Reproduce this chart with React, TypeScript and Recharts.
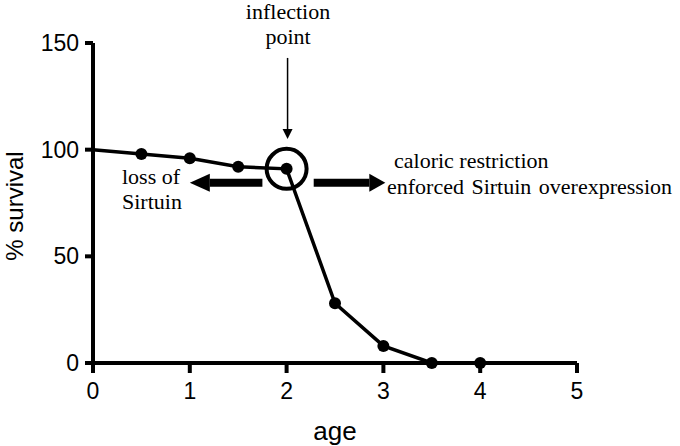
import React from "react";
import { LineChart, Line, XAxis, YAxis, ReferenceDot, ReferenceLine } from "recharts";

const ages = [0, 0.5, 1, 1.5, 2, 2.5, 3, 3.5, 4];
const survival = [100, 98, 96, 92, 91, 28, 8, 0, 0];
const xTicks = [0, 1, 2, 3, 4, 5];
const yTicks = [0, 50, 100, 150];

const data = ages.map((a, i) => ({ age: a, survival: survival[i] }));

const serif = "'Liberation Serif', 'Times New Roman', serif";
const sans = "'Liberation Sans', Arial, sans-serif";

// thick arrow drawn along a reference segment, head at (x2, y2)
const Arrow = (w: number, head: number, headW: number) => (p: any) => {
  const { x1, y1, x2, y2 } = p;
  if (x1 == null || x2 == null) return null;
  const dx = x2 - x1;
  const dy = y2 - y1;
  const len = Math.sqrt(dx * dx + dy * dy) || 1;
  const ux = dx / len;
  const uy = dy / len;
  const bx = x2 - ux * head;
  const by = y2 - uy * head;
  const nx = -uy;
  const ny = ux;
  return (
    <g>
      <line x1={x1} y1={y1} x2={bx} y2={by} stroke="#000" strokeWidth={w} />
      <polygon
        points={`${x2},${y2} ${bx + nx * headW},${by + ny * headW} ${bx - nx * headW},${by - ny * headW}`}
        fill="#000"
      />
    </g>
  );
};

const Dot = (p: any) => {
  if (p.index === 0) return null;
  return <circle key={p.index} cx={p.cx} cy={p.cy} r={6} fill="#000" />;
};

export default function App() {
  return (
    <div style={{ position: "absolute", top: 0, left: 0, width: 680, height: 446, background: "#fff" }}>
      <LineChart width={680} height={446} data={data} margin={{ top: 43, right: 103, left: 0, bottom: 23 }}>
        <XAxis
          dataKey="age"
          type="number"
          domain={[0, 5]}
          ticks={xTicks}
          height={60}
          axisLine={{ stroke: "#000", strokeWidth: 4 }}
          tickLine={{ stroke: "#000", strokeWidth: 4 }}
          tickSize={10}
          tickMargin={10}
          tick={{ fill: "#000", fontSize: 23, fontFamily: sans }}
        />
        <YAxis
          type="number"
          domain={[0, 150]}
          ticks={yTicks}
          width={93}
          axisLine={{ stroke: "#000", strokeWidth: 4 }}
          tickLine={{ stroke: "#000", strokeWidth: 4 }}
          tickSize={8}
          tickMargin={6}
          tick={{ fill: "#000", fontSize: 23, fontFamily: sans }}
        />
        <Line
          dataKey="survival"
          stroke="#000"
          strokeWidth={3.5}
          dot={Dot}
          activeDot={false}
          isAnimationActive={false}
        />
        <ReferenceDot x={2} y={91} r={20} fill="none" stroke="#000" strokeWidth={4} ifOverflow="visible" />
        <ReferenceLine
          segment={[{ x: 2.01, y: 143 }, { x: 2.01, y: 105 }]}
          shape={Arrow(1.5, 10, 5)}
          ifOverflow="visible"
        />
        <ReferenceLine
          segment={[{ x: 1.75, y: 84.5 }, { x: 1.0, y: 84.5 }]}
          shape={Arrow(8, 20, 9)}
          ifOverflow="visible"
        />
        <ReferenceLine
          segment={[{ x: 2.28, y: 84.5 }, { x: 3.02, y: 84.5 }]}
          shape={Arrow(8, 16, 9)}
          ifOverflow="visible"
        />
        <text x={335} y={440} textAnchor="middle" fontFamily={sans} fontSize={26} fill="#000">age</text>
        <text x={23} y={206} textAnchor="middle" transform="rotate(-90, 23, 206)" fontFamily={sans} fontSize={24} fill="#000">% survival</text>
        <text x={288} y={19} textAnchor="middle" fontFamily={serif} fontSize={22} fill="#000">inflection</text>
        <text x={288} y={44} textAnchor="middle" fontFamily={serif} fontSize={22} fill="#000">point</text>
        <text x={122} y={184} fontFamily={serif} fontSize={22} fill="#000">loss of</text>
        <text x={122} y={209} fontFamily={serif} fontSize={22} fill="#000">Sirtuin</text>
        <text x={394} y={168} fontFamily={serif} fontSize={22} fill="#000">caloric restriction</text>
        <text x={387} y={194} fontFamily={serif} fontSize={22} fill="#000" style={{ wordSpacing: 2 }}>enforced Sirtuin overexpression</text>
      </LineChart>
    </div>
  );
}
